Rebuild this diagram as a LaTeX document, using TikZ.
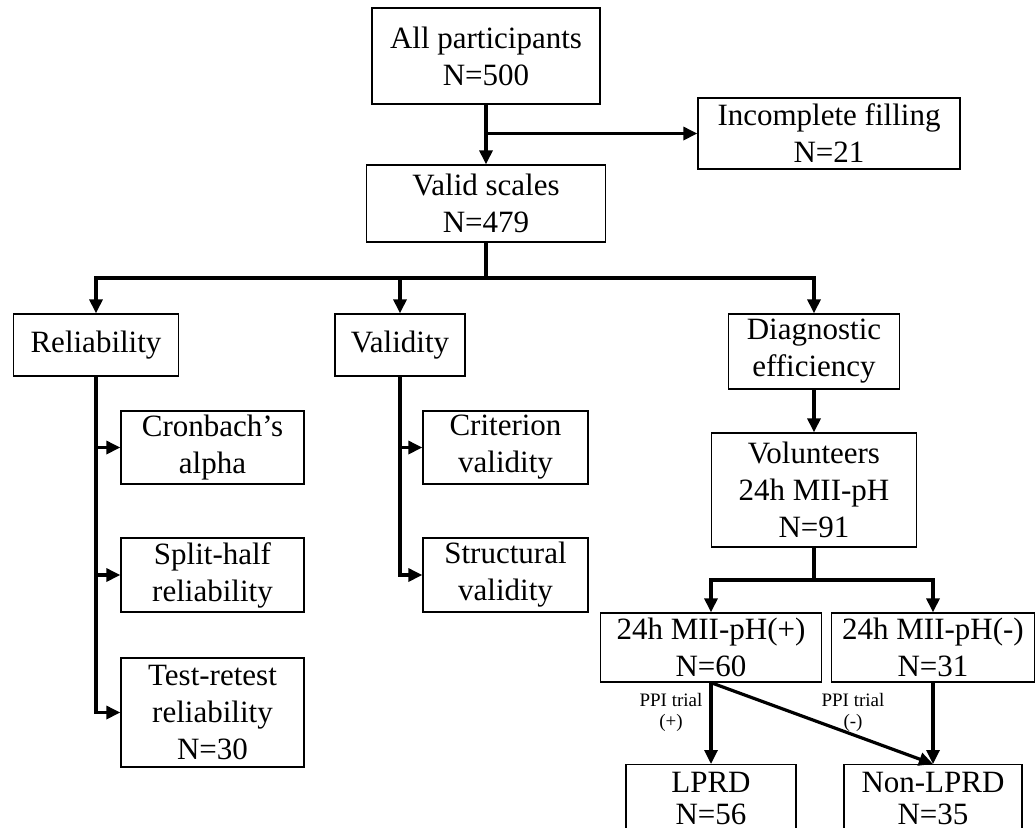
\documentclass[tikz,border=0pt]{standalone}
\usepackage{fontspec}
\setmainfont{Liberation Serif}
\usepackage{tikz}
\usetikzlibrary{arrows.meta}

\begin{document}
\begin{tikzpicture}[
  x=0.5pt, y=-0.5pt,
  box/.style={draw, line width=0.65pt, inner sep=0pt, align=center,
              font=\fontsize{15.5pt}{18.5pt}\selectfont},
  endbox/.style={box, anchor=north, inner ysep=4pt,
                 font=\fontsize{15.5pt}{16pt}\selectfont},
  note/.style={inner sep=0pt, align=center,
               font=\fontsize{9.5pt}{10.5pt}\selectfont},
  arr/.style={-{Triangle[length=7pt, width=6.5pt]}, line width=1.6pt},
  lnk/.style={line width=1.6pt},
]
\useasboundingbox (0,0) rectangle (1035,827);
\clip (0,0) rectangle (1035,827);

% top of the flow
\node[box, minimum width=114pt, minimum height=48pt] (all) at (486,56) {All participants\\N=500};
\node[box, minimum width=131pt, minimum height=35.5pt] (incomp) at (829,133.5) {Incomplete filling\\N=21};
\node[box, minimum width=119.5pt, minimum height=38.5pt] (valid) at (486,203.5) {Valid scales\\N=479};

% three branches
\node[box, minimum width=82.5pt, minimum height=31pt] (rel) at (96,345) {Reliability};
\node[box, minimum width=65pt, minimum height=31pt] (vald) at (400,345) {Validity};
\node[box, minimum width=85.5pt, minimum height=37.5pt] (diag) at (814,351.5) {Diagnostic\\efficiency};

\node[box, minimum width=91.5pt, minimum height=36.5pt] (cron) at (212.5,447.5) {Cronbach's\\alpha};
\node[box, minimum width=91.5pt, minimum height=37pt] (split) at (212.5,575) {Split-half\\reliability};
\node[box, minimum width=91.5pt, minimum height=54.5pt] (retest) at (212.5,712.5) {Test-retest\\reliability\\N=30};

\node[box, minimum width=82.5pt, minimum height=36.5pt] (crit) at (505.5,447.5) {Criterion\\validity};
\node[box, minimum width=82.5pt, minimum height=37pt] (struct) at (505.5,575) {Structural\\validity};

% diagnostic part
\node[box, minimum width=102.5pt, minimum height=57pt] (vol) at (814,490) {Volunteers\\24h MII-pH\\N=91};
\node[box, minimum width=110.5pt, minimum height=34.5pt] (pos) at (711,647.5) {24h MII-pH(+)\\N=60};
\node[box, minimum width=101.5pt, minimum height=34.5pt] (neg) at (933,647.5) {24h MII-pH(-)\\N=31};
\node[endbox, minimum width=85pt] (lprd) at (711,764) {LPRD\\N=56};
\node[endbox, minimum width=89pt] (nonlprd) at (933,764) {Non-LPRD\\N=35};

\node[note] (ppipos) at (671,712.5) {PPI trial\\(+)};
\node[note] (ppineg) at (853,712.5) {PPI trial\\(-)};

\coordinate (b1) at (486,278);
\coordinate (b2) at (814,580);

\draw[arr] (all) -- (valid);
\draw[arr] (all.south |- incomp.west) -- (incomp.west);

\draw[lnk] (valid.south) -- (b1);
\draw[arr] (b1) -| (rel.north);
\draw[arr] (b1) -| (vald.north);
\draw[arr] (b1) -| (diag.north);

\draw[arr] (rel.south) |- (cron.west);
\draw[arr] (rel.south) |- (split.west);
\draw[arr] (rel.south) |- (retest.west);
\draw[arr] (vald.south) |- (crit.west);
\draw[arr] (vald.south) |- (struct.west);

\draw[arr] (diag) -- (vol);
\draw[lnk] (vol.south) -- (b2);
\draw[arr] (b2) -| (pos.north);
\draw[arr] (b2) -| (neg.north);

\draw[arr] (pos) -- (lprd);
\draw[arr] (neg) -- (nonlprd);
\draw[arr] (pos.south) -- (nonlprd.north);
\end{tikzpicture}
\end{document}
